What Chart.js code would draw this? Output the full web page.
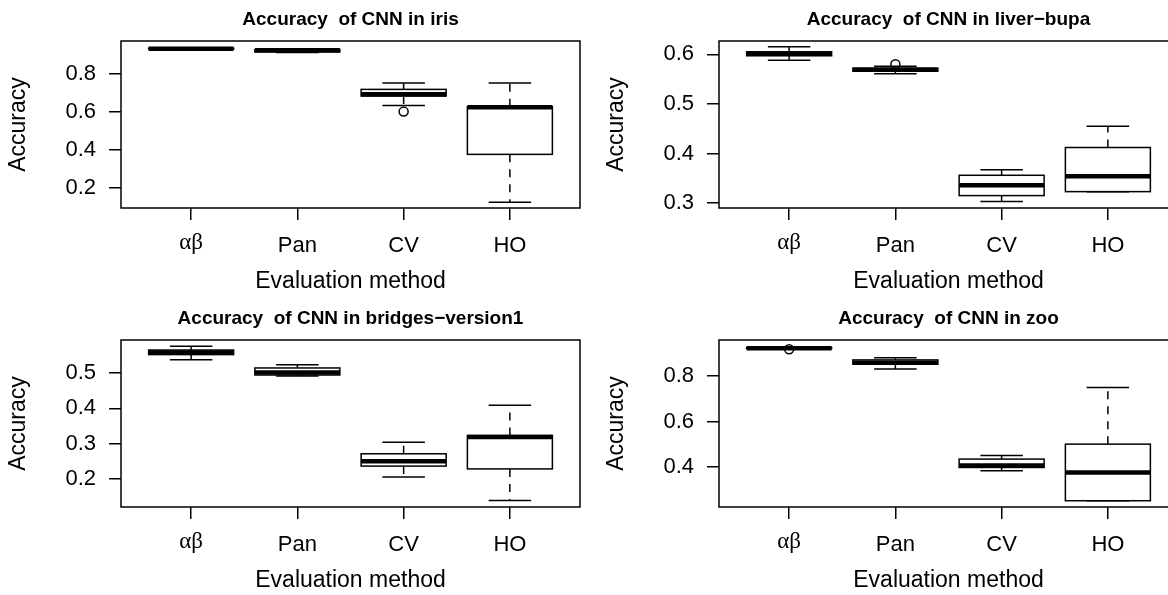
<!DOCTYPE html>
<html>
<head>
<meta charset="utf-8">
<script src="https://cdn.jsdelivr.net/npm/chart.js@4/dist/chart.umd.min.js"></script>
<style>
  html, body { margin: 0; padding: 0; width: 1168px; height: 595px; overflow: hidden; background: #ffffff; }
  .panel { position: absolute; width: 600px; height: 299px; }
</style>
</head>
<body>
<div class="panel" style="left:0px;top:0px"><canvas id="c1" width="600" height="299"></canvas></div>
<div class="panel" style="left:598px;top:0px"><canvas id="c2" width="600" height="299"></canvas></div>
<div class="panel" style="left:0px;top:299px"><canvas id="c3" width="600" height="299"></canvas></div>
<div class="panel" style="left:598px;top:299px"><canvas id="c4" width="600" height="299"></canvas></div>
<script>
// ---------- data ----------
const categories = ['αβ', 'Pan', 'CV', 'HO'];
const xTickValues = [1, 2, 3, 4];
const xLabel = 'Evaluation method';
const yLabel = 'Accuracy';

// iris
const irisTitle = 'Accuracy  of CNN in iris';
const irisLow    = [0.932, 0.913, 0.634, 0.125];
const irisQ1     = [0.932, 0.916, 0.684, 0.377];
const irisMedian = [0.933, 0.925, 0.693, 0.625];
const irisQ3     = [0.935, 0.928, 0.719, 0.628];
const irisHigh   = [0.935, 0.929, 0.752, 0.752];
const irisOutX   = [3];
const irisOutY   = [0.602];
const irisYRange = [0.0947, 0.9737];
const irisYTicks = [0.2, 0.4, 0.6, 0.8];

// liver-bupa
const liverTitle = 'Accuracy  of CNN in liver\u2212bupa';
const liverLow    = [0.588, 0.561, 0.303, 0.323];
const liverQ1     = [0.597, 0.566, 0.315, 0.323];
const liverMedian = [0.601, 0.569, 0.336, 0.354];
const liverQ3     = [0.605, 0.572, 0.356, 0.412];
const liverHigh   = [0.615, 0.576, 0.367, 0.455];
const liverOutX   = [2];
const liverOutY   = [0.580];
const liverYRange = [0.290, 0.6268];
const liverYTicks = [0.3, 0.4, 0.5, 0.6];

// bridges-version1
const bridgesTitle = 'Accuracy  of CNN in bridges\u2212version1';
const bridgesLow    = [0.538, 0.492, 0.205, 0.138];
const bridgesQ1     = [0.553, 0.495, 0.236, 0.228];
const bridgesMedian = [0.559, 0.502, 0.250, 0.319];
const bridgesQ3     = [0.566, 0.515, 0.271, 0.323];
const bridgesHigh   = [0.577, 0.524, 0.304, 0.409];
const bridgesOutX   = [];
const bridgesOutY   = [];
const bridgesYRange = [0.1197, 0.5945];
const bridgesYTicks = [0.2, 0.3, 0.4, 0.5];

// zoo
const zooTitle = 'Accuracy  of CNN in zoo';
const zooLow    = [0.922, 0.832, 0.382, 0.250];
const zooQ1     = [0.922, 0.853, 0.397, 0.250];
const zooMedian = [0.924, 0.860, 0.406, 0.375];
const zooQ3     = [0.926, 0.872, 0.434, 0.500];
const zooHigh   = [0.928, 0.882, 0.450, 0.750];
const zooOutX   = [1];
const zooOutY   = [0.919];
const zooYRange = [0.2223, 0.960];
const zooYTicks = [0.4, 0.6, 0.8];

// ---------- drawing ----------
const SANS = 'Liberation Sans, Arial, Helvetica, sans-serif';
const SERIF = 'Liberation Serif, Times New Roman, serif';
const statsById = {};

const boxPlugin = {
  id: 'boxWhiskers',
  afterDatasetDraw(chart, args) {
    if (args.index !== 0) return;
    const st = statsById[chart.canvas.id];
    if (!st) return;
    const xs = chart.scales.x, ys = chart.scales.y;
    const meta = chart.getDatasetMeta(0);
    const ctx = chart.ctx;
    ctx.save();
    ctx.strokeStyle = '#000';
    for (let i = 0; i < st.med.length; i++) {
      const bar = meta.data[i];
      const cx = xs.getPixelForValue(xTickValues[i]);
      const hw = bar.width / 2;
      const yLo = ys.getPixelForValue(st.low[i]);
      const yQ1 = ys.getPixelForValue(st.q1[i]);
      const yQ3 = ys.getPixelForValue(st.q3[i]);
      const yHi = ys.getPixelForValue(st.high[i]);
      const yMed = ys.getPixelForValue(st.med[i]);
      ctx.lineWidth = 1.5;
      ctx.setLineDash([8, 7]);
      ctx.beginPath();
      ctx.moveTo(cx, yQ3); ctx.lineTo(cx, yHi);
      ctx.moveTo(cx, yQ1); ctx.lineTo(cx, yLo);
      ctx.stroke();
      ctx.setLineDash([]);
      ctx.beginPath();
      ctx.moveTo(cx - hw / 2, yHi); ctx.lineTo(cx + hw / 2, yHi);
      ctx.moveTo(cx - hw / 2, yLo); ctx.lineTo(cx + hw / 2, yLo);
      ctx.stroke();
      ctx.strokeRect(cx - hw, yQ3, 2 * hw, yQ1 - yQ3);
      ctx.lineWidth = 4.5;
      ctx.lineCap = 'butt';
      ctx.beginPath();
      ctx.moveTo(cx - hw, yMed); ctx.lineTo(cx + hw, yMed);
      ctx.stroke();
    }
    ctx.restore();
  },
  afterDraw(chart) {
    const a = chart.chartArea;
    const ctx = chart.ctx;
    ctx.save();
    ctx.strokeStyle = '#000';
    ctx.lineWidth = 1.5;
    ctx.strokeRect(a.left, a.top, a.right - a.left, a.bottom - a.top);
    ctx.restore();
  }
};

function makePanel(id, title, low, q1, med, q3, high, outX, outY, yRange, yTicks) {
  statsById[id] = { low, q1, med, q3, high };
  const boxData = categories.map((c, i) => ({ x: xTickValues[i], y: [q1[i], q3[i]] }));
  const outData = outX.map((x, i) => ({ x: x, y: outY[i] }));
  return new Chart(document.getElementById(id), {
    data: {
      datasets: [
        {
          type: 'bar',
          data: boxData,
          backgroundColor: '#ffffff',
          borderColor: 'rgba(0,0,0,0)',
          borderWidth: 0,
          barPercentage: 1.0,
          categoryPercentage: 0.8,
          order: 1
        },
        {
          type: 'scatter',
          data: outData,
          pointStyle: 'circle',
          pointRadius: 4.5,
          pointBackgroundColor: 'rgba(0,0,0,0)',
          pointBorderColor: '#000',
          pointBorderWidth: 1.5,
          order: 0
        }
      ]
    },
    options: {
      responsive: false,
      animation: false,
      devicePixelRatio: 1,
      layout: { padding: { left: 0, right: 20, top: 0, bottom: 0 }, autoPadding: false },
      plugins: {
        legend: { display: false },
        tooltip: { enabled: false },
        title: {
          display: true,
          text: title,
          color: '#000',
          fullSize: false,
          font: { family: SANS, size: 19, weight: 'bold', lineHeight: 1.2 },
          padding: { top: 8.6, bottom: 9.6 }
        }
      },
      scales: {
        x: {
          type: 'linear',
          position: 'bottom',
          min: 0.34,
          max: 4.66,
          offset: false,
          bounds: 'data',
          afterBuildTicks: (s) => { s.ticks = xTickValues.map(v => ({ value: v })); },
          afterFit: (s) => { s.height = 91; },
          border: { display: false },
          grid: { offset: false, drawOnChartArea: false, drawTicks: true, tickLength: 12, color: '#000', lineWidth: 1.5 },
          ticks: {
            autoSkip: false,
            maxRotation: 0,
            padding: 13,
            color: '#000',
            font: (ctx) => ctx.index === 0 ? { family: SERIF, size: 23, lineHeight: 0.85 } : { family: SANS, size: 22 },
            callback: (v) => categories[Math.round(v) - 1]
          },
          title: {
            display: true,
            text: xLabel,
            color: '#000',
            font: { family: SANS, size: 23, lineHeight: 1.2 },
            padding: { top: 0, bottom: 3.2 }
          }
        },
        y: {
          type: 'linear',
          position: 'left',
          min: yRange[0],
          max: yRange[1],
          bounds: 'data',
          afterBuildTicks: (s) => { s.ticks = yTicks.map(v => ({ value: v })); },
          afterFit: (s) => { s.width = 121; },
          border: { display: false },
          grid: { drawOnChartArea: false, drawTicks: true, tickLength: 12, color: '#000', lineWidth: 1.5 },
          ticks: {
            autoSkip: false,
            padding: 13,
            color: '#000',
            font: { family: SANS, size: 22 },
            callback: (v) => Number(v).toFixed(1)
          },
          title: {
            display: true,
            text: yLabel,
            color: '#000',
            font: { family: SANS, size: 23, lineHeight: 1.2 },
            padding: { top: 4.7, bottom: 0 }
          }
        }
      }
    },
    plugins: [boxPlugin]
  });
}

makePanel('c1', irisTitle, irisLow, irisQ1, irisMedian, irisQ3, irisHigh, irisOutX, irisOutY, irisYRange, irisYTicks);
makePanel('c2', liverTitle, liverLow, liverQ1, liverMedian, liverQ3, liverHigh, liverOutX, liverOutY, liverYRange, liverYTicks);
makePanel('c3', bridgesTitle, bridgesLow, bridgesQ1, bridgesMedian, bridgesQ3, bridgesHigh, bridgesOutX, bridgesOutY, bridgesYRange, bridgesYTicks);
makePanel('c4', zooTitle, zooLow, zooQ1, zooMedian, zooQ3, zooHigh, zooOutX, zooOutY, zooYRange, zooYTicks);
</script>
</body>
</html>
